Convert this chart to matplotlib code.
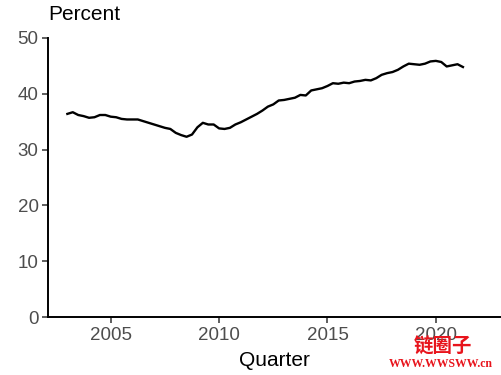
import matplotlib
matplotlib.use("Agg")
from matplotlib import pyplot as plt
import numpy as np

# quarterly share, 2003Q1 .. 2021Q2
start_year = 2003.0
values = [36.4, 36.7, 36.2, 36.0, 35.7, 35.8, 36.2, 36.2,
          35.9, 35.8, 35.5, 35.4, 35.4, 35.4, 35.1, 34.8,
          34.5, 34.2, 33.9, 33.7, 33.0, 32.6, 32.3, 32.7,
          34.0, 34.8, 34.5, 34.5, 33.8, 33.7, 33.9, 34.5,
          34.9, 35.4, 35.9, 36.4, 37.0, 37.7, 38.1, 38.8,
          38.9, 39.1, 39.3, 39.8, 39.7, 40.6, 40.8, 41.0,
          41.4, 41.9, 41.8, 42.0, 41.9, 42.2, 42.3, 42.5,
          42.4, 42.8, 43.4, 43.7, 43.9, 44.3, 44.9, 45.4,
          45.3, 45.2, 45.4, 45.8, 45.9, 45.7, 44.9, 45.1,
          45.3, 44.8]
quarters = start_year + np.arange(len(values)) / 4.0

xticks = [2005, 2010, 2015, 2020]
yticks = [0, 10, 20, 30, 40, 50]

plt.rcParams["font.family"] = ["Liberation Sans", "DejaVu Sans"]

fig = plt.figure(figsize=(5.02, 3.75), dpi=100)
ax = fig.add_axes([48.3 / 502, 1 - 317 / 375, (500 - 48.3) / 502, (317 - 38) / 375])

ax.plot(quarters, values, color="black", lw=1.7)

ax.set_xlim(2002.12, 2022.96)
ax.set_ylim(0, 50)
ax.set_xticks(xticks)
ax.set_yticks(yticks)

for s in ["top", "right"]:
    ax.spines[s].set_visible(False)
for s in ["left", "bottom"]:
    ax.spines[s].set_linewidth(1.4)
    ax.spines[s].set_color("black")

ax.tick_params(axis="both", length=4, width=1.1, color="#333333",
               labelsize=13.5, labelcolor="#4D4D4D", pad=3)

ax.set_xlabel("Quarter", fontsize=15, color="black", labelpad=5)
fig.text(48 / 502, 1 - 15 / 375, "Percent", fontsize=15, color="black",
         ha="left", va="center")

# watermark
fig.text(443 / 502, 1 - 347 / 375, "链圈子", fontsize=14, color="#E8141C",
         ha="center", va="center", fontweight="bold",
         family=["Noto Sans CJK SC", "DejaVu Sans"])
fig.text(441 / 502, 1 - 364 / 375, "WWW.WWSWW.cn", fontsize=8.5, color="#E8141C",
         ha="center", va="center", fontweight="bold", family="Liberation Serif")

fig.savefig("out.png", dpi=100)
